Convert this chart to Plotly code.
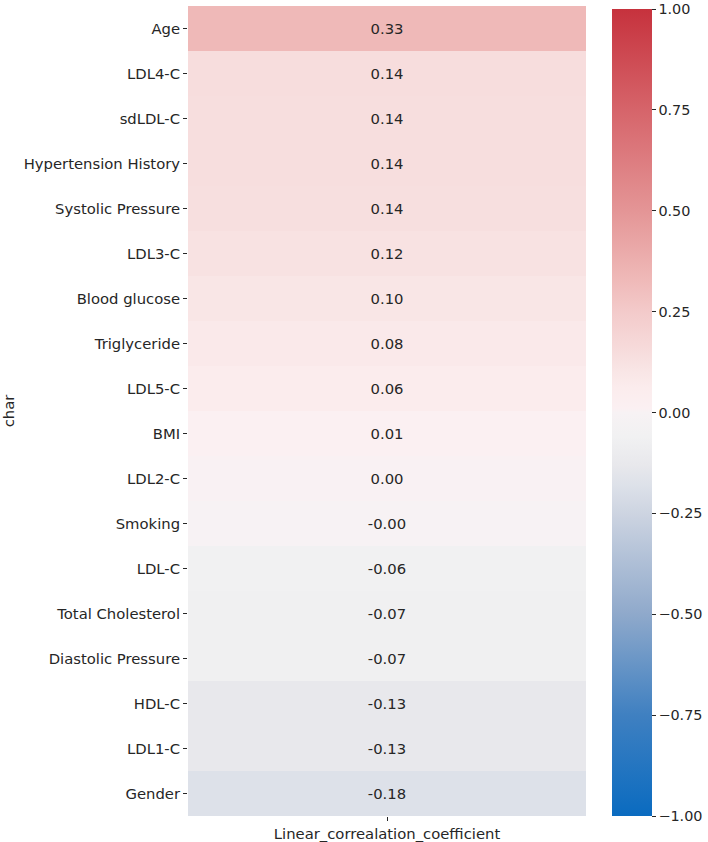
import plotly.graph_objects as go

features = ["Age", "LDL4-C", "sdLDL-C", "Hypertension History", "Systolic Pressure",
            "LDL3-C", "Blood glucose", "Triglyceride", "LDL5-C", "BMI", "LDL2-C",
            "Smoking", "LDL-C", "Total Cholesterol", "Diastolic Pressure", "HDL-C",
            "LDL1-C", "Gender"]
coef = [0.33, 0.143, 0.141, 0.139, 0.137, 0.12, 0.10, 0.08, 0.06, 0.012, 0.004,
        -0.002, -0.06, -0.07, -0.07, -0.13, -0.13, -0.18]
column = ["Linear_correalation_coefficient"]
cbar_ticks = [-1.0, -0.75, -0.5, -0.25, 0.0, 0.25, 0.5, 0.75, 1.0]
cbar_labels = ["\u22121.00", "\u22120.75", "\u22120.50", "\u22120.25",
               "0.00", "0.25", "0.50", "0.75", "1.00"]

colorscale = [
    [0.0, "#0a6bc0"],
    [0.125, "#3f80c1"],
    [0.25, "#8fa9cb"],
    [0.375, "#cdd4e1"],
    [0.41, "#dde1e9"],
    [0.435, "#e8e8ec"],
    [0.47, "#f1f1f2"],
    [0.5, "#f7f2f4"],
    [0.505, "#fbf0f2"],
    [0.53, "#fbeced"],
    [0.55, "#f9e6e6"],
    [0.57, "#f7dede"],
    [0.625, "#f3caca"],
    [0.665, "#efb9b8"],
    [0.75, "#e49596"],
    [0.875, "#d6646a"],
    [1.0, "#c6323d"],
]

z = [[v] for v in coef]
text = [[f"{v:.2f}"] for v in coef]

FONT = "DejaVu Sans"
FS = 14.8
TC = "#262626"

fig = go.Figure(go.Heatmap(
    z=z, x=column, y=features, text=text, texttemplate="%{text}",
    textfont=dict(family=FONT, size=FS, color=TC),
    colorscale=colorscale, zmin=-1, zmax=1, xgap=0, ygap=0,
    colorbar=dict(
        x=(612 - 188) / 398, xanchor="left", xref="paper", xpad=0, ypad=0,
        y=0, yanchor="bottom", len=(816 - 9) / 810, lenmode="fraction",
        thickness=40, thicknessmode="pixels", outlinewidth=0,
        tickvals=cbar_ticks, ticktext=cbar_labels,
        ticks="outside", ticklen=4, ticklabeloverflow="allow",
        tickcolor=TC, tickfont=dict(family=FONT, size=14.4, color=TC),
    ),
    hoverinfo="skip",
))

fig.update_layout(
    width=708, height=842,
    margin=dict(l=188, r=122, t=6, b=26, autoexpand=False),
    paper_bgcolor="white", plot_bgcolor="white",
    font=dict(family=FONT, size=FS, color=TC),
    xaxis=dict(showgrid=False, zeroline=False, showline=False, ticks="outside",
               ticklen=4, tickcolor=TC, automargin=False,
               tickfont=dict(family=FONT, size=FS, color=TC)),
    yaxis=dict(showgrid=False, zeroline=False, showline=False, autorange="reversed",
               ticks="outside", ticklen=4, tickcolor=TC, automargin=False,
               tickfont=dict(family=FONT, size=FS, color=TC),
               title=dict(text="char", font=dict(family=FONT, size=FS, color=TC), standoff=8)),
)

fig.write_html("out.html", config={"displayModeBar": False},
               post_script="document.body.style.margin='0';")
